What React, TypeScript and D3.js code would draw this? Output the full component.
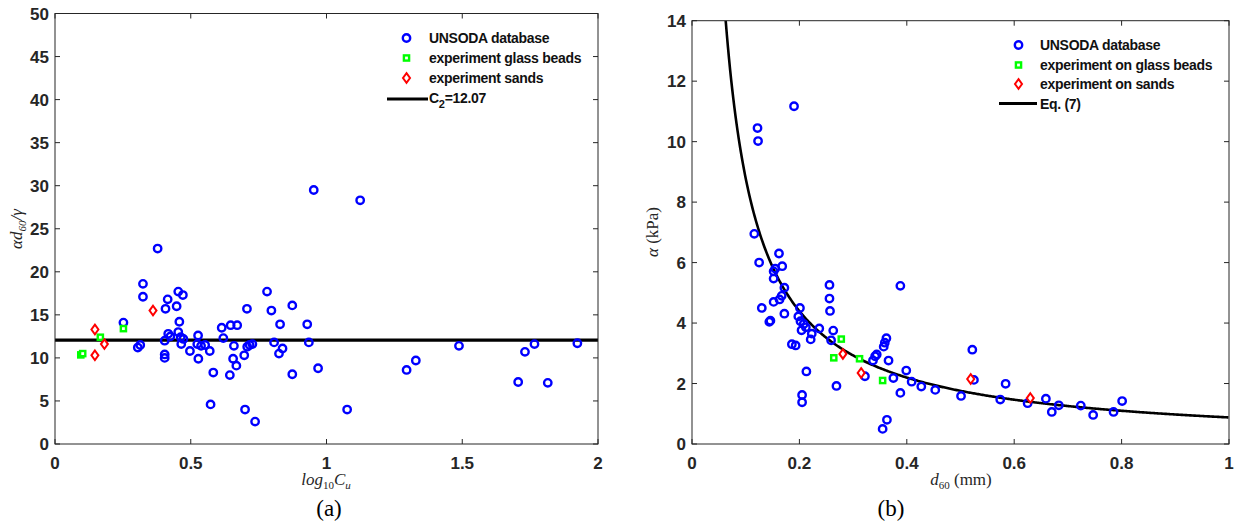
import React from "react";
import * as d3 from "d3";

// ---------- Panel (a) data ----------
const aXTicks = [0, 0.5, 1, 1.5, 2];
const aYTicks = [0, 5, 10, 15, 20, 25, 30, 35, 40, 45, 50];
const aUnsodaX = [0.252, 0.305, 0.314, 0.324, 0.324, 0.378, 0.404, 0.404, 0.404, 0.407, 0.415, 0.417, 0.425, 0.448, 0.454, 0.458, 0.454, 0.463, 0.465, 0.473, 0.471, 0.497, 0.527, 0.528, 0.524, 0.538, 0.553, 0.570, 0.573, 0.583, 0.614, 0.620, 0.644, 0.647, 0.659, 0.656, 0.668, 0.671, 0.697, 0.700, 0.707, 0.708, 0.717, 0.727, 0.737, 0.781, 0.797, 0.807, 0.825, 0.829, 0.838, 0.874, 0.874, 0.929, 0.935, 0.953, 0.969, 1.076, 1.124, 1.295, 1.329, 1.488, 1.706, 1.731, 1.766, 1.815, 1.924];
const aUnsodaY = [14.1, 11.2, 11.5, 18.6, 17.1, 22.7, 12.0, 10.4, 10.0, 15.7, 16.8, 12.8, 12.5, 16.0, 17.7, 14.2, 13.0, 12.4, 11.6, 12.2, 17.3, 10.8, 12.6, 9.9, 11.6, 11.4, 11.5, 10.8, 4.6, 8.3, 13.5, 12.3, 8.0, 13.8, 11.4, 9.9, 9.1, 13.8, 10.3, 4.0, 15.7, 11.3, 11.5, 11.6, 2.6, 17.7, 15.5, 11.8, 10.5, 13.9, 11.1, 16.1, 8.1, 13.9, 11.8, 29.5, 8.8, 4.0, 28.3, 8.6, 9.7, 11.4, 7.2, 10.7, 11.6, 7.1, 11.7];
const aBeadsX = [0.095, 0.102, 0.167, 0.252];
const aBeadsY = [10.35, 10.5, 12.4, 13.4];
const aSandsX = [0.147, 0.147, 0.182, 0.361];
const aSandsY = [13.3, 10.3, 11.6, 15.5];
const C2 = 12.07;

// ---------- Panel (b) data ----------
const bXTicks = [0, 0.2, 0.4, 0.6, 0.8, 1];
const bYTicks = [0, 2, 4, 6, 8, 10, 12, 14];
const bUnsodaX = [0.116, 0.122, 0.123, 0.125, 0.130, 0.144, 0.146, 0.152, 0.152, 0.155, 0.152, 0.162, 0.163, 0.167, 0.168, 0.172, 0.172, 0.186, 0.193, 0.190, 0.198, 0.201, 0.202, 0.204, 0.205, 0.205, 0.208, 0.213, 0.212, 0.221, 0.223, 0.237, 0.256, 0.256, 0.257, 0.259, 0.263, 0.269, 0.322, 0.337, 0.341, 0.344, 0.355, 0.357, 0.359, 0.362, 0.363, 0.366, 0.375, 0.388, 0.388, 0.399, 0.409, 0.427, 0.453, 0.501, 0.522, 0.525, 0.574, 0.584, 0.625, 0.659, 0.670, 0.683, 0.724, 0.747, 0.785, 0.801];
const bUnsodaY = [6.95, 10.45, 10.02, 6.0, 4.5, 4.04, 4.08, 5.47, 5.71, 5.8, 4.7, 6.3, 4.78, 4.9, 5.88, 5.17, 4.31, 3.3, 3.26, 11.17, 4.22, 4.5, 4.06, 3.76, 1.62, 1.38, 3.97, 2.4, 3.86, 3.46, 3.65, 3.82, 5.26, 4.81, 4.4, 3.43, 3.75, 1.92, 2.24, 2.76, 2.9, 2.96, 0.5, 3.22, 3.35, 3.5, 0.8, 2.76, 2.18, 5.23, 1.69, 2.43, 2.06, 1.9, 1.79, 1.59, 3.12, 2.12, 1.47, 1.99, 1.35, 1.5, 1.06, 1.28, 1.27, 0.96, 1.06, 1.42];
const bBeadsX = [0.264, 0.278, 0.312, 0.355];
const bBeadsY = [2.85, 3.47, 2.82, 2.1];
const bSandsX = [0.281, 0.315, 0.519, 0.630];
const bSandsY = [2.98, 2.35, 2.15, 1.52];
const GAMMA = 0.0728; // surface tension of water (N/m)

const aLegend = ["UNSODA database", "experiment glass beads", "experiment sands"];
const bLegend = ["UNSODA database", "experiment on glass beads", "experiment on sands", "Eq. (7)"];

const AX = "#262626";
const BLUE = "#0000ff";
const GREEN = "#00ff00";
const RED = "#ff0000";
const SANS = "'Liberation Sans', Arial, sans-serif";
const SERIF = "'Liberation Serif', 'Times New Roman', serif";

type Scale = d3.ScaleLinear<number, number>;

const Circle = ({ cx, cy }: { cx: number; cy: number }) => (
  <circle cx={cx} cy={cy} r={3.7} fill="none" stroke={BLUE} strokeWidth={2.4} />
);
const Square = ({ cx, cy }: { cx: number; cy: number }) => (
  <rect x={cx - 2.6} y={cy - 2.6} width={5.2} height={5.2} fill="#fff" stroke={GREEN} strokeWidth={2.4} />
);
const Diamond = ({ cx, cy }: { cx: number; cy: number }) => (
  <path d={`M${cx},${cy - 4.8}L${cx + 3.5},${cy}L${cx},${cy + 4.8}L${cx - 3.5},${cy}Z`} fill="#fff" stroke={RED} strokeWidth={2} />
);

function Frame({ x, y, xTicks, yTicks, xFmt }: { x: Scale; y: Scale; xTicks: number[]; yTicks: number[]; xFmt: (v: number) => string }) {
  const [x0, x1] = x.range();
  const [y0, y1] = y.range();
  const tl = 5;
  return (
    <g>
      <rect x={x0} y={y1} width={x1 - x0} height={y0 - y1} fill="none" stroke={AX} strokeWidth={1} />
      {xTicks.map((t, i) => (
        <g key={"x" + i}>
          <line x1={x(t)} x2={x(t)} y1={y0} y2={y0 - tl} stroke={AX} />
          <line x1={x(t)} x2={x(t)} y1={y1} y2={y1 + tl} stroke={AX} />
          <text x={x(t)} y={y0 + 24.5} textAnchor="middle" fontFamily={SANS} fontWeight="bold" fontSize={17} fill={AX}>
            {xFmt(t)}
          </text>
        </g>
      ))}
      {yTicks.map((t, i) => (
        <g key={"y" + i}>
          <line x1={x0} x2={x0 + tl} y1={y(t)} y2={y(t)} stroke={AX} />
          <line x1={x1} x2={x1 - tl} y1={y(t)} y2={y(t)} stroke={AX} />
          <text x={x0 - 6} y={y(t) + 6} textAnchor="end" fontFamily={SANS} fontWeight="bold" fontSize={17} fill={AX}>
            {String(t)}
          </text>
        </g>
      ))}
    </g>
  );
}

export default function App() {
  const ax = d3.scaleLinear().domain([0, 2]).range([55, 598]);
  const ay = d3.scaleLinear().domain([0, 50]).range([444, 13.5]);
  const bx = d3.scaleLinear().domain([0, 1]).range([692, 1229]);
  const by = d3.scaleLinear().domain([0, 14]).range([444, 20.7]);

  const k = C2 * GAMMA;
  const xs = d3.range(0.055, 1.0001, 0.002);
  const curve = d3
    .line<number>()
    .x((d) => bx(d))
    .y((d) => by(k / d))(xs) as string;

  const fmtA = (v: number) => String(v);
  const fmtB = (v: number) => String(v);

  return (
    <svg width={1237} height={528} style={{ position: "absolute", left: 0, top: 0, background: "#fff" }}>
      <defs>
        <clipPath id="clipB">
          <rect x={692} y={20.7} width={537} height={423.3} />
        </clipPath>
      </defs>
      <rect width={1237} height={528} fill="#fff" />

      {/* ---------- Panel (a) ---------- */}
      <line x1={ax(0)} x2={ax(2)} y1={ay(C2)} y2={ay(C2)} stroke="#000" strokeWidth={3.2} />
      {aUnsodaX.map((v, i) => (
        <Circle key={"au" + i} cx={ax(v)} cy={ay(aUnsodaY[i])} />
      ))}
      {aBeadsX.map((v, i) => (
        <Square key={"ab" + i} cx={ax(v)} cy={ay(aBeadsY[i])} />
      ))}
      {aSandsX.map((v, i) => (
        <Diamond key={"as" + i} cx={ax(v)} cy={ay(aSandsY[i])} />
      ))}
      <Frame x={ax} y={ay} xTicks={aXTicks} yTicks={aYTicks} xFmt={fmtA} />

      {/* legend a */}
      <Circle cx={406.5} cy={38} />
      <Square cx={406.5} cy={58} />
      <Diamond cx={406.5} cy={78} />
      <line x1={387} x2={428} y1={99} y2={99} stroke="#000" strokeWidth={3} />
      {aLegend.map((s, i) => (
        <text key={"la" + i} x={429} y={43 + i * 20} fontFamily={SANS} fontWeight="bold" fontSize={14} fill="#111" letterSpacing={-0.3}>
          {s}
        </text>
      ))}
      <text x={429} y={103} fontFamily={SANS} fontWeight="bold" fontSize={14} fill="#111" letterSpacing={-0.3}>
        C<tspan dy={5} fontSize={11}>2</tspan>
        <tspan dy={-5}>=12.07</tspan>
      </text>

      {/* axis labels a */}
      <text transform={`translate(22,229) rotate(-90)`} textAnchor="middle" fontFamily={SERIF} fontStyle="italic" fontSize={17} fill={AX}>
        αd<tspan dy={4} fontSize={11}>60</tspan>
        <tspan dy={-4}>/γ</tspan>
      </text>
      <text x={326} y={485} textAnchor="middle" fontFamily={SERIF} fontStyle="italic" fontSize={17} fill={AX}>
        log<tspan dy={4} fontSize={11} fontStyle="normal">10</tspan>
        <tspan dy={-4}>C</tspan>
        <tspan dy={4} fontSize={11}>u</tspan>
      </text>
      <text x={329} y={516} textAnchor="middle" fontFamily={SERIF} fontSize={23} fill="#000">
        (a)
      </text>

      {/* ---------- Panel (b) ---------- */}
      <path d={curve} fill="none" stroke="#000" strokeWidth={2.6} clipPath="url(#clipB)" />
      {bUnsodaX.map((v, i) => (
        <Circle key={"bu" + i} cx={bx(v)} cy={by(bUnsodaY[i])} />
      ))}
      {bBeadsX.map((v, i) => (
        <Square key={"bb" + i} cx={bx(v)} cy={by(bBeadsY[i])} />
      ))}
      {bSandsX.map((v, i) => (
        <Diamond key={"bs" + i} cx={bx(v)} cy={by(bSandsY[i])} />
      ))}
      <Frame x={bx} y={by} xTicks={bXTicks} yTicks={bYTicks} xFmt={fmtB} />

      {/* legend b */}
      <Circle cx={1018.5} cy={45} />
      <Square cx={1018.5} cy={65} />
      <Diamond cx={1018.5} cy={84} />
      <line x1={999} x2={1037} y1={103.5} y2={103.5} stroke="#000" strokeWidth={3} />
      {bLegend.map((s, i) => (
        <text key={"lb" + i} x={1040} y={50 + i * 19.7} fontFamily={SANS} fontWeight="bold" fontSize={14} fill="#111" letterSpacing={-0.3}>
          {s}
        </text>
      ))}

      {/* axis labels b */}
      <text transform={`translate(658,232) rotate(-90)`} textAnchor="middle" fontFamily={SERIF} fontSize={17} fill={AX}>
        <tspan fontStyle="italic">α</tspan> (kPa)
      </text>
      <text x={961} y={485} textAnchor="middle" fontFamily={SERIF} fontSize={17} fill={AX}>
        <tspan fontStyle="italic">d</tspan>
        <tspan dy={4} fontSize={11}>60</tspan>
        <tspan dy={-4}> (mm)</tspan>
      </text>
      <text x={891} y={516} textAnchor="middle" fontFamily={SERIF} fontSize={23} fill="#000">
        (b)
      </text>
    </svg>
  );
}
